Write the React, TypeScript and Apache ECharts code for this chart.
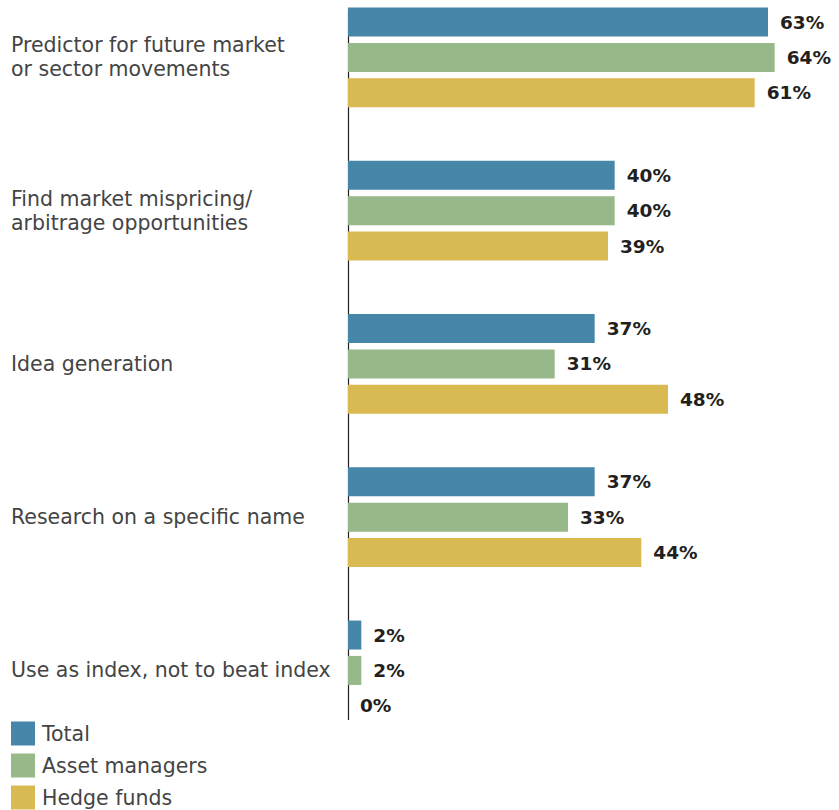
import React, { useEffect, useRef } from "react";
import * as echarts from "echarts";

const categories = [
  "Predictor for future market\nor sector movements",
  "Find market mispricing/\narbitrage opportunities",
  "Idea generation",
  "Research on a specific name",
  "Use as index, not to beat index",
];
const totalValues = [63, 40, 37, 37, 2];
const assetManagerValues = [64, 40, 31, 33, 2];
const hedgeFundValues = [61, 39, 48, 44, 0];
const seriesNames = ["Total", "Asset managers", "Hedge funds"];
const colors = ["#4686a9", "#97b888", "#d8b952"];

export default function App() {
  const ref = useRef<HTMLDivElement>(null);
  useEffect(() => {
    const chart = echarts.init(ref.current!, null, { renderer: "svg" });
    const valueLabel = {
      show: true,
      position: "right",
      distance: 12,
      formatter: "{c}%",
      fontFamily: "DejaVu Sans",
      fontWeight: "bold",
      fontSize: 18.5,
      color: "#231f20",
    };
    const data = [totalValues, assetManagerValues, hedgeFundValues];
    chart.setOption({
      animation: false,
      grid: {
        left: 348,
        top: -19.2,
        width: 480,
        height: 766.25,
        outerBoundsMode: "none",
        containLabel: false,
      },
      xAxis: {
        type: "value",
        min: 0,
        max: 72,
        show: false,
      },
      yAxis: {
        type: "category",
        data: categories,
        inverse: true,
        axisLine: { show: false },
        axisTick: { show: false },
        axisLabel: {
          align: "left",
          margin: 337,
          fontFamily: "DejaVu Sans",
          fontSize: 20.5,
          lineHeight: 24,
          color: "#444444",
        },
      },
      legend: {
        orient: "vertical",
        left: 11,
        top: 721.5,
        padding: 0,
        itemWidth: 24,
        itemHeight: 24,
        itemGap: 8,
        icon: "rect",
        textStyle: {
          fontFamily: "DejaVu Sans",
          fontSize: 20.5,
          color: "#444444",
          padding: [0, 0, 0, 2],
        },
        data: seriesNames,
      },
      graphic: [
        {
          type: "line",
          shape: { x1: 348.5, y1: 9, x2: 348.5, y2: 720 },
          style: { stroke: "#231f20", lineWidth: 1.2 },
        },
      ],
      series: seriesNames.map((name, i) => ({
        name,
        type: "bar",
        data: data[i],
        barWidth: 29,
        barGap: "22%",
        itemStyle: { color: colors[i] },
        label: valueLabel,
      })),
    });
    return () => chart.dispose();
  }, []);
  return (
    <div
      ref={ref}
      style={{ position: "fixed", left: 0, top: 0, width: 839, height: 810, background: "#fff" }}
    />
  );
}
